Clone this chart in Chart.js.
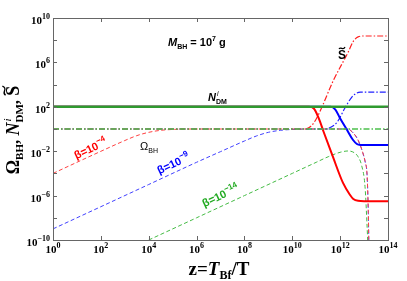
<!DOCTYPE html>
<html>
<head>
<meta charset="utf-8">
<script src="https://cdn.jsdelivr.net/npm/chart.js@4"></script>
<style>
  body { margin: 0; background: #fff; }
  #wrap { width: 407px; height: 281px; }
</style>
</head>
<body>
<div id="wrap"><canvas id="chart" width="407" height="281"></canvas></div>
<script>
// all curves stored as log10(z) / log10(value)

// N_DM^i for beta = 1e-14 (green, solid)
const ndmGreenZ = [0, 14];
const ndmGreenY = [2, 2];

// N_DM^i for beta = 1e-4 (red, solid)
const ndmRedZ = [0, 10.7, 10.9, 11.1, 11.3, 11.7, 12.12, 12.4, 12.55, 12.75, 13, 14];
const ndmRedY = [2, 2, 1.85, 1.0, -0.2, -2.52, -4.86, -5.9, -6.3, -6.47, -6.5, -6.5];

// N_DM^i for beta = 1e-9 (blue, solid)
const ndmBlueZ = [0, 11.6, 11.8, 11.99, 12.29, 12.54, 12.7, 12.85, 13, 14];
const ndmBlueY = [2, 2, 1.75, 1.0, -0.09, -0.99, -1.35, -1.44, -1.45, -1.45];

// S tilde (dash-dot)
const sRedZ = [0, 10.5, 10.75, 11.0, 11.24, 11.7, 12.33, 12.55, 12.75, 13, 14];
const sRedY = [0, 0, 0.2, 0.9, 1.98, 4.3, 6.9, 7.9, 8.3, 8.38, 8.38];
const sBlueZ = [0, 11.4, 11.6, 11.87, 12.2, 12.49, 12.7, 12.85, 14];
const sBlueY = [0, 0, 0.15, 0.6, 1.89, 2.88, 3.25, 3.33, 3.33];
const sGreenZ = [0, 14];
const sGreenY = [0, 0];

// Omega_BH (dashed)
const omRedZ = [0, 1, 2, 3, 3.5, 4, 4.5, 5, 6, 12.3, 12.5, 12.75, 12.95, 13.05, 13.12, 13.16, 13.19, 13.21];
const omRedY = [-4, -3, -2.01, -1.04, -0.6, -0.3, -0.12, -0.04, 0, 0, -0.25, -1.0, -2.16, -3.0, -3.96, -6.1, -9, -12];
const omBlueZ = [0, 2, 4, 6, 7, 8, 8.5, 9, 9.5, 10, 11, 12.3, 12.5, 12.75, 12.95, 13.05, 13.12, 13.16, 13.19, 13.21];
const omBlueY = [-9, -7, -5, -3, -2.04, -1.08, -0.63, -0.3, -0.12, -0.04, 0, 0, -0.25, -1.0, -2.16, -3.0, -3.96, -6.1, -9, -12];
const omGreenZ = [4, 6, 8, 10, 11, 11.5, 12, 12.33, 12.6, 12.75, 12.9, 13.04, 13.12, 13.17];
const omGreenY = [-10, -8, -6, -4, -3, -2.5, -2.1, -1.98, -2.15, -2.5, -3.3, -5.2, -8.47, -11];

// tick positions (log10)
const xTicks = [0, 2, 4, 6, 8, 10, 12, 14];
const yTicks = [-10, -8, -6, -4, -2, 0, 2, 4, 6, 8, 10];
const yLabels = [-10, -6, -2, 2, 6, 10];

const pts = (zs, ys) => zs.map((z, i) => ({ x: Math.pow(10, z), y: Math.pow(10, ys[i]) }));

const SERIF = '"Liberation Serif", "Times New Roman", serif';
const SANS = '"Liberation Sans", Arial, sans-serif';

// draw a run of text pieces (for sub / superscripts, tilde accents)
function rich(ctx, parts, x, y, align, rot, color) {
  ctx.save();
  ctx.translate(x, y);
  if (rot) ctx.rotate(rot);
  ctx.fillStyle = color || '#000';
  ctx.strokeStyle = color || '#000';
  ctx.textBaseline = 'alphabetic';
  ctx.textAlign = 'left';
  let total = 0;
  parts.forEach(p => {
    if (p.tilde) { p.w = 0; return; }
    ctx.font = p.f;
    p.w = ctx.measureText(p.t).width;
    if (!p.stay) total += p.w + (p.dx || 0);
  });
  let cx = align === 'center' ? -total / 2 : align === 'right' ? -total : 0;
  parts.forEach(p => {
    if (p.tilde) {
      // little wave over the previous glyph
      const x0 = cx + p.dx, y0 = p.dy, w = p.tilde, h = w * 0.18;
      ctx.lineWidth = p.lw || 1.2;
      ctx.beginPath();
      ctx.moveTo(x0, y0 + h);
      ctx.bezierCurveTo(x0 + w * 0.3, y0 - h * 2, x0 + w * 0.7, y0 + h * 3, x0 + w, y0 - h);
      ctx.stroke();
      return;
    }
    ctx.font = p.f;
    ctx.fillText(p.t, cx + (p.dx || 0), p.dy || 0);
    if (!p.stay) cx += p.w + (p.dx || 0);
  });
  ctx.restore();
}

function pow10(exp) {
  return [
    { t: '10', f: 'bold 11px ' + SERIF },
    { t: exp < 0 ? '\u2212' + (-exp) : String(exp), f: 'bold 8px ' + SERIF, dy: -5 }
  ];
}

const framePlugin = {
  id: 'frame',
  afterDraw(chart) {
    const ctx = chart.ctx;
    const a = chart.chartArea;
    const sx = chart.scales.x, sy = chart.scales.y;
    ctx.save();
    ctx.strokeStyle = '#666';
    ctx.lineWidth = 1;
    ctx.strokeRect(Math.round(a.left) + 0.5, Math.round(a.top) + 0.5, Math.round(a.right - a.left), Math.round(a.bottom - a.top));
    ctx.beginPath();
    xTicks.forEach(k => {
      const px = Math.round(sx.getPixelForValue(Math.pow(10, k))) + 0.5;
      ctx.moveTo(px, a.bottom); ctx.lineTo(px, a.bottom - 4);
      ctx.moveTo(px, a.top); ctx.lineTo(px, a.top + 4);
    });
    yTicks.forEach(k => {
      const py = Math.round(sy.getPixelForValue(Math.pow(10, k))) + 0.5;
      ctx.moveTo(a.left, py); ctx.lineTo(a.left + 4, py);
      ctx.moveTo(a.right, py); ctx.lineTo(a.right - 4, py);
    });
    ctx.stroke();
    ctx.restore();

    // tick labels
    xTicks.forEach(k => {
      const px = sx.getPixelForValue(Math.pow(10, k));
      rich(ctx, pow10(k), px, a.bottom + 13, 'center');
    });
    yLabels.forEach(k => {
      const py = sy.getPixelForValue(Math.pow(10, k));
      rich(ctx, pow10(k), a.left - 3, py + 6, 'right');
    });

    // axis titles
    rich(ctx, [
      { t: 'z=', f: 'bold 19px ' + SERIF },
      { t: 'T', f: 'bold italic 19px ' + SERIF },
      { t: 'Bf', f: 'bold 12px ' + SERIF, dy: 4 },
      { t: '/T', f: 'bold 19px ' + SERIF }
    ], 219, 275, 'center');

    rich(ctx, [
      { t: '\u03A9', f: 'bold 18px ' + SERIF },
      { t: 'BH', f: 'bold 11px ' + SERIF, dy: 4 },
      { t: ', ', f: 'bold 17px ' + SERIF },
      { t: 'N', f: 'bold italic 18px ' + SERIF },
      { t: 'i', f: 'italic 11px ' + SERIF, dy: -8, stay: true, dx: 1 },
      { t: 'DM', f: 'bold 11px ' + SERIF, dy: 4 },
      { t: ', ', f: 'bold 17px ' + SERIF },
      { t: 'S', f: 'bold 18px ' + SERIF },
      { tilde: 9, dx: -9.5, dy: -15, lw: 1.4 }
    ], 19, 130, 'center', -Math.PI / 2);

    // annotations
    rich(ctx, [
      { t: 'M', f: 'bold italic 11px ' + SANS },
      { t: 'BH', f: 'bold 7px ' + SANS, dy: 3 },
      { t: ' = 10', f: 'bold 11px ' + SANS },
      { t: '7', f: 'bold 7px ' + SANS, dy: -5 },
      { t: ' g', f: 'bold 11px ' + SANS }
    ], 168, 46, 'left');

    rich(ctx, [
      { t: 'N', f: 'bold italic 11px ' + SANS },
      { t: 'i', f: 'italic 7px ' + SANS, dy: -5, stay: true, dx: 1 },
      { t: 'DM', f: 'bold 7px ' + SANS, dy: 3 }
    ], 208, 101, 'left');

    rich(ctx, [
      { t: 'S', f: 'bold 12px ' + SANS },
      { tilde: 6, dx: -7, dy: -11, lw: 1.2 }
    ], 338, 59, 'left');

    rich(ctx, [
      { t: '\u03A9', f: '11px ' + SANS },
      { t: 'BH', f: '7px ' + SANS, dy: 3 }
    ], 140, 150, 'left');

    const rot = -Math.atan(11.1 / 23.9);
    const beta = exp => [
      { t: '\u03B2=10', f: 'bold 11px ' + SANS },
      { t: '\u2212' + exp, f: 'bold 8px ' + SANS, dy: -5 }
    ];
    rich(ctx, beta(4), 92, 152, 'center', rot, '#ff0000');
    rich(ctx, beta(9), 175, 167, 'center', rot, '#0000ff');
    rich(ctx, beta(14), 222, 199, 'center', rot, '#22aa22');
  }
};

const DASH = [4, 2.5];
const DASHDOT = [6, 2, 1.5, 2];

const ctx = document.getElementById('chart').getContext('2d');
new Chart(ctx, {
  type: 'scatter',
  data: {
    datasets: [
      { data: pts(ndmGreenZ, ndmGreenY), borderColor: '#2f9a2f', borderWidth: 2.5 },
      { data: pts(sGreenZ, sGreenY), borderColor: '#4cc04c', borderWidth: 1.4, borderDash: DASHDOT },
      { data: pts(ndmRedZ, ndmRedY), borderColor: '#ff0000', borderWidth: 2 },
      { data: pts(ndmBlueZ, ndmBlueY), borderColor: '#0000ff', borderWidth: 2 },
      { data: pts(sRedZ, sRedY), borderColor: '#ff2020', borderWidth: 1.2, borderDash: DASHDOT },
      { data: pts(sBlueZ, sBlueY), borderColor: '#2020ff', borderWidth: 1.2, borderDash: DASHDOT },
      { data: pts(omRedZ, omRedY), borderColor: '#ff4040', borderWidth: 1, borderDash: DASH },
      { data: pts(omBlueZ, omBlueY), borderColor: '#4040ff', borderWidth: 1, borderDash: DASH },
      { data: pts(omGreenZ, omGreenY), borderColor: '#44bb44', borderWidth: 1, borderDash: DASH }
    ].map(d => Object.assign({ showLine: true, pointRadius: 0, cubicInterpolationMode: 'monotone', fill: false }, d))
  },
  options: {
    responsive: false,
    animation: false,
    layout: { padding: { left: 53, top: 18, right: 19, bottom: 41 } },
    plugins: { legend: { display: false }, tooltip: { enabled: false } },
    scales: {
      x: { type: 'logarithmic', min: 1, max: 1e14, display: false },
      y: { type: 'logarithmic', min: 1e-10, max: 1e10, display: false }
    }
  },
  plugins: [framePlugin]
});
</script>
</body>
</html>
